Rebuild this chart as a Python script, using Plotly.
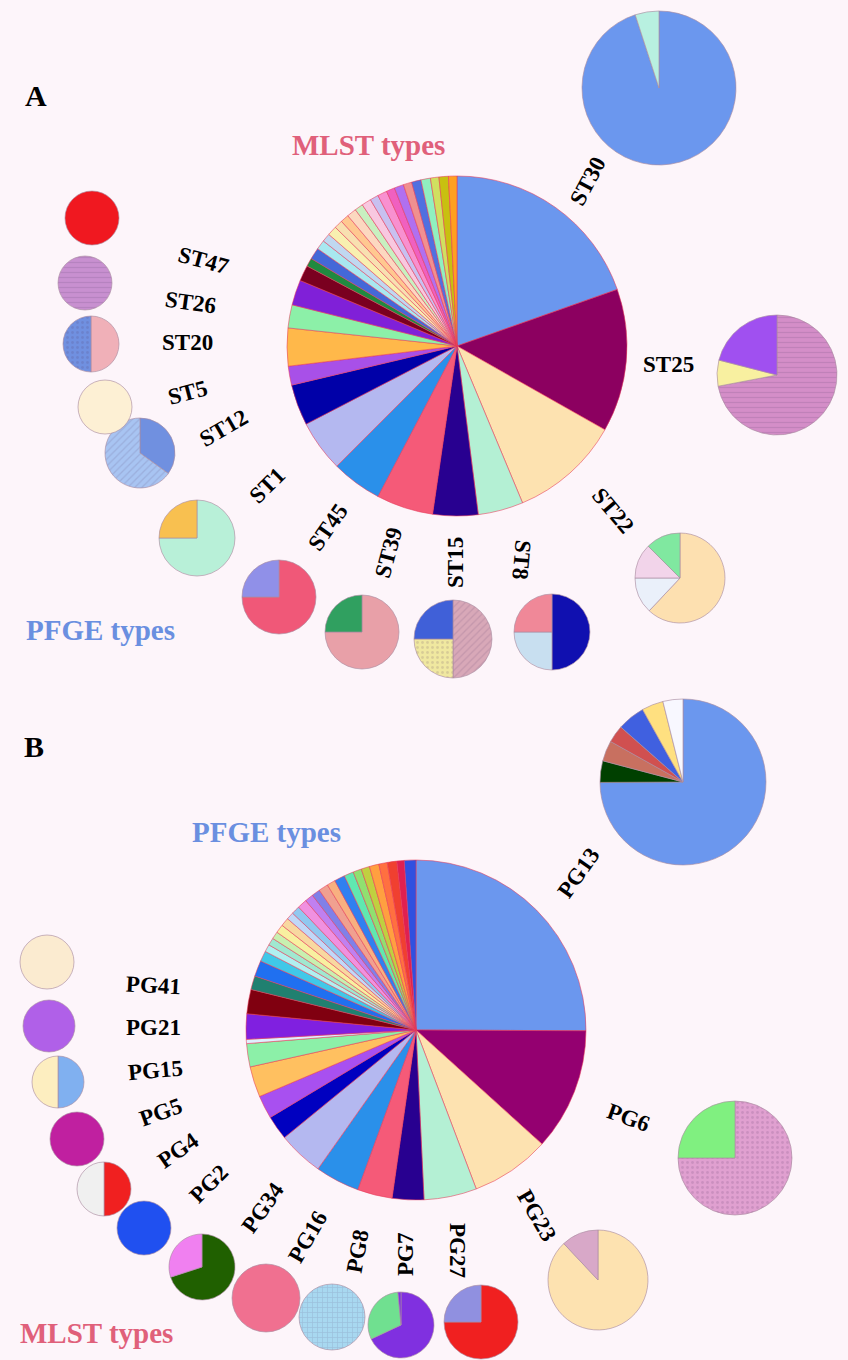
import plotly.graph_objects as go

W, H = 848, 1360
BG = "#fdf5fa"

# ---------------- Panel A: MLST types (main pie) ----------------
a_main_values = [19.6, 13.6, 10.5, 4.3, 4.3, 5.4, 4.8, 4.9, 3.9, 1.8, 3.6, 2.2, 2.4, 1.5, 0.8, 1.1,
                 0.9, 0.8, 0.9, 0.8, 0.8, 0.9, 0.8, 0.9, 0.8, 0.9, 0.8, 0.9, 0.8, 0.9, 0.9, 0.8, 0.9, 0.8]
a_main_colors = ["#6b97ee", "#8c0060", "#fde2b0", "#b4f0d4", "#280090", "#f55a78", "#2a90ea", "#b4b8f0",
                 "#0000a8", "#a850e8", "#ffb84a", "#8cf0a8", "#8020d8", "#7a0020", "#208a40", "#4468d8",
                 "#a8e8f0", "#c0d8f0", "#f8f0b0", "#f8e0b0", "#ffc890", "#fcd8c0", "#c8f0c0", "#f8c8e0",
                 "#c8c0f0", "#f890d0", "#f060c0", "#b070f0", "#f09090", "#5070e0", "#90f0c0", "#d0e060",
                 "#c8c010", "#ffa020"]

# Panel A: PFGE composition of each MLST type
st_labels = ["ST30", "ST25", "ST22", "ST8", "ST15", "ST39", "ST45", "ST1", "ST12", "ST5", "ST20", "ST26", "ST47"]
st30_values = [95, 5]
st25_values = [72, 7, 21]
st22_values = [62, 13, 12.5, 12.5]
st8_values = [50, 25, 25]
st15_values = [50, 25, 25]
st39_values = [75, 25]
st45_values = [75, 25]
st1_values = [75, 25]
st12_values = [35, 65]
st5_values = [100]
st20_values = [50, 50]
st26_values = [100]
st47_values = [100]

# ---------------- Panel B: PFGE types (main pie) ----------------
b_main_values = [25, 11.6, 7.5, 5, 3, 3.3, 4.2, 4.3, 2.3, 2.2, 2.9, 2.2, 0.4, 2.4, 2.3, 1.3, 1.5,
                 1.0, 0.7, 0.7, 0.7, 0.8, 0.8, 0.7, 0.8, 0.9, 0.8, 0.8, 0.9, 0.8, 1.0, 0.9, 0.8, 0.8,
                 0.9, 0.8, 0.9, 0.7, 1.1]
b_main_colors = ["#6b97ee", "#940070", "#fde2b0", "#b4f0d4", "#280090", "#f55a78", "#2a90ea", "#b4b8f0",
                 "#0000c0", "#a850f0", "#ffc060", "#8cf0a8", "#e0f0ff", "#8020e0", "#800010", "#208070",
                 "#2070f0",
                 "#40c8e8", "#b0f0f0", "#a0e8d0", "#c8f0b0", "#f8f0a0", "#f8d8a0", "#c0d8f8", "#90c8f0",
                 "#f090e0", "#c080f0", "#8080e8", "#f0a090", "#f8b080", "#3080f0", "#60e8b0", "#90e070",
                 "#c0d040", "#ffa040", "#ff7040", "#f04030", "#e02050", "#3050e0"]

# Panel B: MLST composition of each PFGE type
pg_labels = ["PG13", "PG6", "PG23", "PG27", "PG7", "PG8", "PG16", "PG34", "PG2", "PG4", "PG5", "PG15", "PG21", "PG41"]
pg13_values = [75, 4.2, 4.0, 3.4, 5.4, 4.2, 3.9]
pg6_values = [75, 25]
pg23_values = [88, 12]
pg27_values = [75, 25]
pg7_values = [68, 30.5, 1.5]
pg8_values = [100]
pg16_values = [100]
pg34_values = [70, 30]
pg2_values = [100]
pg4_values = [50, 50]
pg5_values = [100]
pg15_values = [50, 50]
pg21_values = [100]
pg41_values = [100]

# ---------------- styling / placement (pixels: centre x, centre y, radius, hatch) ----------------
small_pies = [
    # panel A
    (st30_values, ["#6b97ee", "#b8f0e0"], 659, 88, 77, None),
    (st25_values, ["#d48ec8", "#f8f0a0", "#a050f0"], 777, 375, 60, ["-", "", ""]),
    (st22_values, ["#fde0b0", "#eaf0fa", "#f2d4ea", "#80e8a0"], 680, 578, 45, None),
    (st8_values, ["#1010b0", "#c8dff0", "#f08898"], 552, 632, 38, None),
    (st15_values, ["#d8a8b8", "#f0e8a0", "#4060d8"], 453, 639, 39, ["/", ".", ""]),
    (st39_values, ["#e8a0a8", "#30a060"], 362, 632, 37, None),
    (st45_values, ["#f05878", "#9090e8"], 279, 597, 37, None),
    (st1_values, ["#b8f0d8", "#f8c050"], 197, 538, 38, None),
    (st12_values, ["#7090e0", "#a8c4f2"], 140, 453, 35, ["", "/"]),
    (st5_values, ["#fdf0d4"], 105, 407, 27, None),
    (st20_values, ["#f0b0b8", "#7090e0"], 91, 344, 28, ["", "."]),
    (st26_values, ["#c890d0"], 85, 283, 27, ["-"]),
    (st47_values, ["#f01820"], 92, 218, 27, None),
    # panel B
    (pg13_values, ["#6b97ee", "#004000", "#c87060", "#d05050", "#4060e0", "#ffe080", "#f8f8ff"], 683, 782, 83, None),
    (pg6_values, ["#e0a0d0", "#80f080"], 735, 1158, 57, [".", ""]),
    (pg23_values, ["#fde2b0", "#d8a8c8"], 598, 1280, 50, None),
    (pg27_values, ["#f02020", "#9090e0"], 481, 1322, 37, None),
    (pg7_values, ["#8030e0", "#70e090", "#8030e0"], 401, 1325, 33, None),
    (pg8_values, ["#a8d8f0"], 332, 1317, 33, ["+"]),
    (pg16_values, ["#f07090"], 266, 1298, 34, None),
    (pg34_values, ["#206000", "#f080f0"], 202, 1267, 33, None),
    (pg2_values, ["#2050f0"], 144, 1228, 27, None),
    (pg4_values, ["#f02020", "#f0f0f0"], 104, 1189, 27, None),
    (pg5_values, ["#c020a0"], 77, 1139, 27, None),
    (pg15_values, ["#80b0f0", "#fdeec0"], 58, 1082, 26, None),
    (pg21_values, ["#b060e8"], 49, 1026, 26, None),
    (pg41_values, ["#fbebd0"], 47, 962, 27, None),
]

main_pies = [
    (a_main_values, a_main_colors, 457, 346, 170),
    (b_main_values, b_main_colors, 416, 1030, 170),
]

label_pos = [
    # panel A (text, x, y, angle)
    ("ST30", 588, 182, -62), ("ST25", 668, 365, 0), ("ST22", 613, 510, 50),
    ("ST8", 522, 560, 95), ("ST15", 455, 563, -90), ("ST39", 388, 553, -75),
    ("ST45", 328, 528, -55), ("ST1", 267, 485, -45), ("ST12", 223, 428, -30),
    ("ST5", 188, 393, -15), ("ST20", 187, 342, 0), ("ST26", 190, 302, 8),
    ("ST47", 203, 260, 15),
    # panel B
    ("PG13", 578, 873, -55), ("PG6", 628, 1117, 20), ("PG23", 537, 1215, 60),
    ("PG27", 458, 1250, 90), ("PG7", 405, 1255, -90), ("PG8", 357, 1252, -80),
    ("PG16", 307, 1237, -60), ("PG34", 262, 1208, -55), ("PG2", 208, 1184, -45),
    ("PG4", 178, 1150, -35), ("PG5", 160, 1112, -20), ("PG15", 155, 1070, -5),
    ("PG21", 153, 1027, 0), ("PG41", 153, 985, 3),
]


def dom(cx, cy, r):
    return dict(x=[(cx - r) / W, (cx + r) / W], y=[1 - (cy + r) / H, 1 - (cy - r) / H])


fig = go.Figure()
for vals, cols, cx, cy, r in main_pies:
    fig.add_trace(go.Pie(values=vals, marker=dict(colors=cols, line=dict(color="rgba(230,60,90,0.7)", width=0.8)),
                         sort=False, direction="clockwise", rotation=0, textinfo="none",
                         hoverinfo="percent", domain=dom(cx, cy, r), showlegend=False))
for vals, cols, cx, cy, r, hatch in small_pies:
    marker = dict(colors=cols, line=dict(color="rgba(170,140,160,0.8)", width=0.8))
    if hatch:
        marker["pattern"] = dict(shape=hatch, bgcolor=cols, fgcolor="#503060", fgopacity=0.15,
                                 size=5, solidity=0.25, fillmode="replace")
    fig.add_trace(go.Pie(values=vals, marker=marker,
                         sort=False, direction="clockwise", rotation=0, textinfo="none",
                         hoverinfo="percent", domain=dom(cx, cy, r), showlegend=False))

ann = []
for text, x, y, ang in label_pos:
    ann.append(dict(text=text, x=x / W, y=1 - y / H, xref="paper", yref="paper", showarrow=False,
                    textangle=ang, xanchor="center", yanchor="middle",
                    font=dict(family="Liberation Serif", size=23, color="black", weight="bold")))

titles = [
    ("A", 36, 96, "black", 30), ("B", 34, 746, "black", 30),
    ("MLST types", 368, 145, "#e0607a", 29), ("PFGE types", 100, 630, "#6a8fe0", 29),
    ("PFGE types", 266, 832, "#6a8fe0", 29), ("MLST types", 96, 1333, "#e0607a", 29),
]
for text, x, y, col, sz in titles:
    ann.append(dict(text=text, x=x / W, y=1 - y / H, xref="paper", yref="paper", showarrow=False,
                    xanchor="center", yanchor="middle",
                    font=dict(family="Liberation Serif", size=sz, color=col, weight="bold")))

fig.update_layout(width=W, height=H, margin=dict(l=0, r=0, t=0, b=0), paper_bgcolor=BG, plot_bgcolor=BG,
                  annotations=ann)
fig.write_html("out.html", config={"displayModeBar": False},
               post_script="document.body.style.margin='0';document.body.style.overflow='hidden';")
